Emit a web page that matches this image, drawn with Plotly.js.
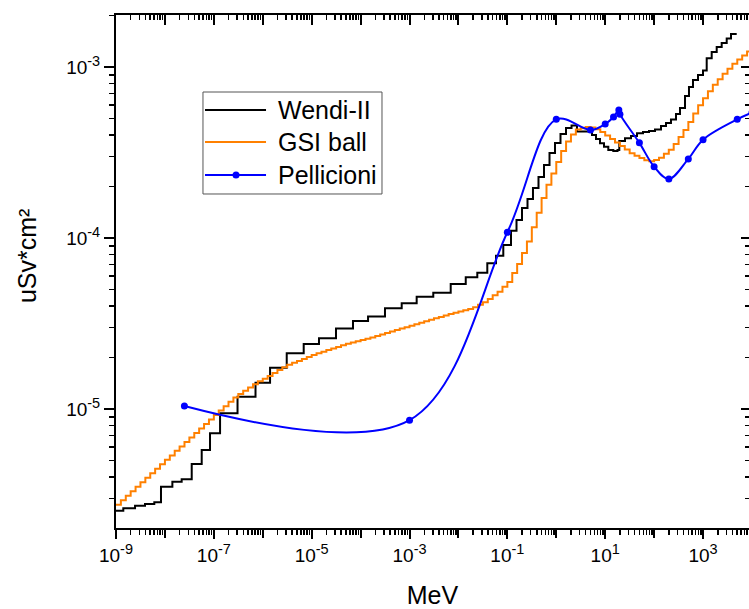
<!DOCTYPE html>
<html><head><meta charset="utf-8">
<script src="https://cdn.plot.ly/plotly-3.0.1.min.js"></script>
<style>html,body{margin:0;padding:0;overflow:hidden;background:#fff}#chart{width:749px;height:609px}</style>
</head><body><div id="chart"></div>
<script>
// Wendi-II (step histogram: left bin edges in MeV, values)
const wendiE = [1e-9,1.41e-9,2.45e-9,3.92e-9,6.07e-9,8.31e-9,1.42e-8,2.2e-8,3.53e-8,5.65e-8,8.35e-8,1.34e-7,3.05e-7,7.11e-7,1.41e-6,3.09e-6,6.87e-6,1.41e-5,3.14e-5,6.99e-5,1.42e-4,3.15e-4,6.92e-4,1.4e-3,3.06e-3,6.95e-3,1.41e-2,2.43e-2,3.89e-2,5.86e-2,8.26e-2,0.1187,0.1538,0.1992,0.258,0.334,0.433,0.561,0.727,0.942,1.22,1.58,2.05,2.65,5.37,6.48,7.83,9.45,11.57,14.64,17.84,19.42,25.4,33.7,44.7,59.3,78.6,104.2,138.3,175,221,280,338,428,516,623,789,998,1188,1503,1902,2406,3045,3729,4875];
const wendiV = [2.54e-6,2.63e-6,2.72e-6,2.78e-6,2.85e-6,3.51e-6,3.76e-6,3.88e-6,4.77e-6,5.76e-6,7.21e-6,9.44e-6,1.18e-5,1.425e-5,1.74e-5,2.12e-5,2.40e-5,2.59e-5,2.96e-5,3.27e-5,3.47e-5,3.88e-5,4.15e-5,4.54e-5,4.79e-5,5.38e-5,5.89e-5,6.27e-5,7.11e-5,7.88e-5,9.10e-5,1.104e-4,1.274e-4,1.498e-4,1.691e-4,1.961e-4,2.273e-4,2.672e-4,3.14e-4,3.59e-4,4.06e-4,4.40e-4,4.55e-4,4.19e-4,4.00e-4,3.79e-4,3.58e-4,3.42e-4,3.27e-4,3.23e-4,3.27e-4,3.69e-4,3.83e-4,3.95e-4,4.10e-4,4.17e-4,4.22e-4,4.31e-4,4.52e-4,4.71e-4,4.93e-4,5.31e-4,5.76e-4,6.77e-4,7.64e-4,8.39e-4,8.98e-4,9.54e-4,1.124e-3,1.224e-3,1.309e-3,1.381e-3,1.468e-3,1.56e-3,1.56e-3];

// GSI ball (fine step histogram)
const gsiE = [
1e-9,1.259e-9,1.585e-9,1.995e-9,2.512e-9,3.162e-9,3.981e-9,5.012e-9,6.31e-9,7.943e-9,
1e-8,1.259e-8,1.585e-8,1.995e-8,2.512e-8,3.162e-8,3.981e-8,5.012e-8,6.31e-8,7.943e-8,
1e-7,1.259e-7,1.585e-7,1.995e-7,2.512e-7,3.162e-7,3.981e-7,5.012e-7,6.31e-7,7.943e-7,
1e-6,1.259e-6,1.585e-6,1.995e-6,2.512e-6,3.162e-6,3.981e-6,5.012e-6,6.31e-6,7.943e-6,
1e-5,1.259e-5,1.585e-5,1.995e-5,2.512e-5,3.162e-5,3.981e-5,5.012e-5,6.31e-5,7.943e-5,
1e-4,1.259e-4,1.585e-4,1.995e-4,2.512e-4,3.162e-4,3.981e-4,5.012e-4,6.31e-4,7.943e-4,
1e-3,1.259e-3,1.585e-3,1.995e-3,2.512e-3,3.162e-3,3.981e-3,5.012e-3,6.31e-3,7.943e-3,
1e-2,1.259e-2,1.585e-2,1.995e-2,2.512e-2,3.162e-2,3.981e-2,5.012e-2,6.31e-2,7.943e-2,
0.1,0.1259,0.1585,0.1995,0.2512,0.3162,0.3981,0.5012,0.631,0.7943,
1,1.259,1.585,1.995,2.512,3.162,3.981,5.012,6.31,7.943,
10,12.59,15.85,19.95,25.12,31.62,39.81,50.12,63.1,79.43,
100,125.9,158.5,199.5,251.2,316.2,398.1,501.2,631,794.3,
1000,1259,1585,1995,2512,3162,3981,5012,6310,7943,
10000];
const gsiV = [
2.75e-6,2.93e-6,3.11e-6,3.30e-6,3.51e-6,3.73e-6,3.96e-6,4.21e-6,4.47e-6,4.75e-6,
5.04e-6,5.35e-6,5.69e-6,6.04e-6,6.42e-6,6.82e-6,7.24e-6,7.69e-6,8.18e-6,8.69e-6,
9.23e-6,9.80e-6,1.039e-5,1.101e-5,1.167e-5,1.224e-5,1.279e-5,1.337e-5,1.397e-5,1.451e-5,
1.505e-5,1.561e-5,1.624e-5,1.689e-5,1.756e-5,1.813e-5,1.862e-5,1.911e-5,1.963e-5,2.015e-5,
2.069e-5,2.118e-5,2.163e-5,2.210e-5,2.257e-5,2.306e-5,2.355e-5,2.406e-5,2.450e-5,2.492e-5,
2.535e-5,2.578e-5,2.622e-5,2.673e-5,2.727e-5,2.781e-5,2.836e-5,2.893e-5,2.951e-5,3.010e-5,
3.070e-5,3.131e-5,3.193e-5,3.257e-5,3.322e-5,3.388e-5,3.456e-5,3.525e-5,3.595e-5,3.660e-5,
3.721e-5,3.783e-5,3.846e-5,3.939e-5,4.069e-5,4.204e-5,4.396e-5,4.620e-5,4.855e-5,5.185e-5,
5.537e-5,6.237e-5,7.04e-5,8.18e-5,9.54e-5,1.156e-4,1.407e-4,1.714e-4,2.048e-4,2.386e-4,
2.779e-4,3.227e-4,3.668e-4,4.023e-4,4.306e-4,4.382e-4,4.458e-4,4.426e-4,4.325e-4,4.169e-4,
3.975e-4,3.792e-4,3.616e-4,3.448e-4,3.289e-4,3.134e-4,3.027e-4,2.937e-4,2.850e-4,2.810e-4,
2.861e-4,2.945e-4,3.109e-4,3.284e-4,3.546e-4,3.896e-4,4.275e-4,4.775e-4,5.352e-4,5.982e-4,
6.574e-4,7.224e-4,7.868e-4,8.471e-4,9.117e-4,9.77e-4,1.043e-3,1.106e-3,1.167e-3,1.232e-3,
1.232e-3];

// Pellicioni (points joined by a smooth curve)
const pellE = [2.5e-8,1e-3,0.1,1,5,10,14.8,19,20,50,100,200,500,1000,5000,10000];
const pellV = [1.04e-5,8.6e-6,1.08e-4,4.94e-4,4.28e-4,4.64e-4,5.1e-4,5.6e-4,5.3e-4,3.6e-4,2.61e-4,2.21e-4,2.9e-4,3.76e-4,4.94e-4,5.4e-4];

// ticks and labels
const xDecades = [1e-9,1e-8,1e-7,1e-6,1e-5,1e-4,1e-3,1e-2,1e-1,1,10,100,1000];
const xLabelVals = [1e-9,1e-7,1e-5,1e-3,1e-1,10,1000];
const xLabelExp = ['-9','-7','-5','-3','-1','1','3'];
const yLabelVals = [1e-5,1e-4,1e-3];
const yLabelExp = ['-5','-4','-3'];
const seriesNames = ['Wendi-II','GSI ball','Pellicioni'];
const seriesColors = ['#000000','#FF8000','#0000FF'];

const sup = e => '10<sup><span style="font-size:14.5px">' + e + '</span></sup>';
function minorVals(lo, hi){
  const out=[];
  for(let d=lo; d<=hi; d++){ for(let m=2;m<=9;m++){ out.push(m*Math.pow(10,d)); } }
  return out;
}
const xMinor = minorVals(-9,3);
const yMinor = minorVals(-6,-3);

const FONT = 'Arial, "Liberation Sans", sans-serif';
const XR = [-9, 3.9395];
const YR = [-5.696, -2.696];

const traces = [
  {x: wendiE, y: wendiV, name: seriesNames[0], mode:'lines', line:{shape:'hv', color:seriesColors[0], width:2}},
  {x: gsiE, y: gsiV, name: seriesNames[1], mode:'lines', line:{shape:'hv', color:seriesColors[1], width:2}},
  {x: pellE, y: pellV, name: seriesNames[2], mode:'lines+markers', line:{shape:'spline', smoothing:1, color:seriesColors[2], width:2}, marker:{color:seriesColors[2], size:7}},
  {x: [], y: [], xaxis:'x2', yaxis:'y2', showlegend:false, hoverinfo:'skip'},
  {x: [], y: [], xaxis:'x3', yaxis:'y', showlegend:false, hoverinfo:'skip'}
];

const axCommon = {
  type:'log', showgrid:false, zeroline:false, showline:true, linecolor:'#000', linewidth:2,
  tickcolor:'#000', tickwidth:2, tickmode:'array', automargin:false,
  tickfont:{family:FONT, size:19, color:'#000'}
};

// custom legend (paper coordinates)
const L = {x0:0.1374, x1:0.4202, y0:0.6511, y1:0.8499, lx0:0.1406, lx1:0.2370, tx:0.2528, rows:[0.8148,0.7524,0.6881], mx:0.1896};
const shapes = [
  {type:'rect', xref:'paper', yref:'paper', x0:L.x0, x1:L.x1, y0:L.y0, y1:L.y1, line:{color:'#555', width:1}, fillcolor:'#fff', layer:'above'}
];
const annotations = [];
for(let i=0;i<3;i++){
  shapes.push({type:'line', xref:'paper', yref:'paper', x0:L.lx0, x1:L.lx1, y0:L.rows[i], y1:L.rows[i], line:{color:seriesColors[i], width:2}, layer:'above'});
  annotations.push({xref:'paper', yref:'paper', x:L.tx, y:L.rows[i], xanchor:'left', yanchor:'middle', text:seriesNames[i], showarrow:false, font:{family:FONT, size:25, color:'#000'}});
}
shapes.push({type:'circle', xref:'paper', yref:'paper', xsizemode:'pixel', ysizemode:'pixel', xanchor:L.mx, yanchor:L.rows[2], x0:-3.5, x1:3.5, y0:-3.5, y1:3.5, fillcolor:seriesColors[2], line:{width:0}, layer:'above'});
// y-axis title
annotations.push({xref:'paper', yref:'paper', x:-0.1406, y:0.530, xanchor:'center', yanchor:'middle', textangle:-90, text:'uSv*cm²', showarrow:false, font:{family:FONT, size:25, color:'#000'}});

const layout = {
  width:749, height:609,
  margin:{l:116, r:0, t:15, b:81},
  paper_bgcolor:'#fff', plot_bgcolor:'#fff',
  showlegend:false,
  font:{family:FONT, color:'#000'},
  xaxis: Object.assign({}, axCommon, {
    range:XR, tickvals:xLabelVals, ticktext:xLabelExp.map(sup), ticks:'outside', ticklen:9,
    minor:{tickmode:'array', tickvals:xMinor, ticks:'outside', ticklen:5, tickwidth:1.5, tickcolor:'#000', showgrid:false},
    title:{text:'MeV', font:{family:FONT, size:25, color:'#000'}, standoff:24}
  }),
  xaxis3: Object.assign({}, axCommon, {
    overlaying:'x', side:'bottom', anchor:'y', range:XR, tickvals:xDecades, showticklabels:false, showline:false, ticks:'outside', ticklen:9
  }),
  yaxis: Object.assign({}, axCommon, {
    range:YR, tickvals:yLabelVals, ticktext:yLabelExp.map(sup), ticks:'outside', ticklen:10,
    minor:{tickmode:'array', tickvals:yMinor, ticks:'outside', ticklen:5, tickwidth:1.5, tickcolor:'#000', showgrid:false}
  }),
  xaxis2: Object.assign({}, axCommon, {
    overlaying:'x', side:'top', anchor:'y2', range:XR, tickvals:xDecades, showticklabels:false, ticks:'inside', ticklen:10,
    minor:{tickmode:'array', tickvals:xMinor, ticks:'inside', ticklen:5, tickwidth:1.5, tickcolor:'#000', showgrid:false}
  }),
  yaxis2: Object.assign({}, axCommon, {
    overlaying:'y', side:'right', anchor:'x2', range:YR, tickvals:yLabelVals, showticklabels:false, showline:false, ticks:'inside', ticklen:8,
    minor:{tickmode:'array', tickvals:yMinor, ticks:'inside', ticklen:4, tickwidth:1.5, tickcolor:'#000', showgrid:false}
  }),
  shapes: shapes,
  annotations: annotations
};

Plotly.newPlot('chart', traces, layout, {displayModeBar:false, staticPlot:true});
</script>
</body></html>
